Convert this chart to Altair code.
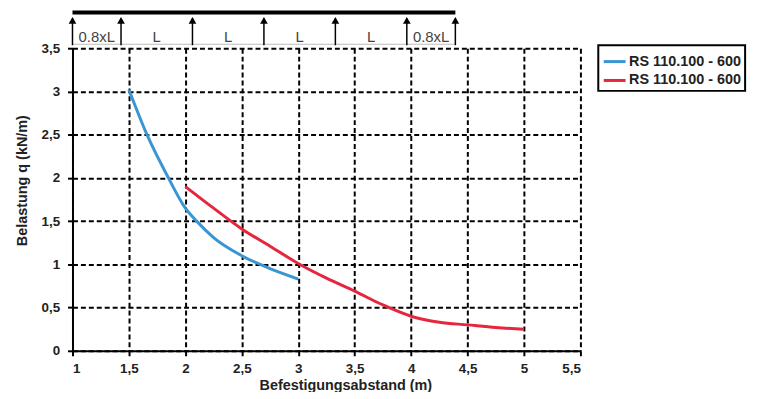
import altair as alt
import pandas as pd

# ---- data ----
blue_x = [1.5, 1.66, 1.85, 2.0, 2.1, 2.25, 2.5, 2.75, 3.0]
blue_y = [3.02, 2.50, 2.00, 1.65, 1.50, 1.31, 1.10, 0.95, 0.83]
red_x = [2.0, 2.25, 2.5, 2.75, 3.0, 3.25, 3.5, 3.75, 4.0, 4.25, 4.5, 4.75, 5.0]
red_y = [1.90, 1.65, 1.41, 1.21, 1.01, 0.84, 0.69, 0.53, 0.40, 0.33, 0.30, 0.27, 0.25]
series_names = ["RS 110.100 - 600 (a)", "RS 110.100 - 600 (b)"]
legend_label = "RS 110.100 - 600"
series_colors = ["#3a96d2", "#e4273e"]

x_ticks = [1, 1.5, 2, 2.5, 3, 3.5, 4, 4.5, 5, 5.5]
y_ticks = [0, 0.5, 1, 1.5, 2, 2.5, 3, 3.5]

# support scheme above the chart (positions in x-axis units)
support_pos = [1.0, 1.43, 2.063, 2.696, 3.329, 3.962, 4.392]
span_labels = ["0.8xL", "L", "L", "L", "L", "0.8xL"]

FONT = "Liberation Sans"

df = pd.concat([
    pd.DataFrame({"x": blue_x, "y": blue_y, "s": series_names[0], "o": range(len(blue_x))}),
    pd.DataFrame({"x": red_x, "y": red_y, "s": series_names[1], "o": range(len(red_x))}),
])

sup = pd.DataFrame({"p": support_pos})
spans = pd.DataFrame({
    "m": [(a + b) / 2 for a, b in zip(support_pos[:-1], support_pos[1:])],
    "t": span_labels,
})
beam = pd.DataFrame({"a": [support_pos[0]], "b": [support_pos[-1]]})

xscale = alt.Scale(domain=[1, 5.5], nice=False, zero=False)
yscale = alt.Scale(domain=[0, 3.5], nice=False, zero=False)

lines = alt.Chart(df).mark_line(strokeWidth=3, interpolate="monotone").encode(
    x=alt.X("x:Q", scale=xscale,
            axis=alt.Axis(values=x_ticks, title="Befestigungsabstand (m)",
                          labelExpr="replace(datum.label, '.', ',')", format=".1~f",
                          titlePadding=4, titleX=275, labelPadding=6)),
    y=alt.Y("y:Q", scale=yscale,
            axis=alt.Axis(values=y_ticks, title="Belastung q (kN/m)",
                          labelExpr="replace(datum.label, '.', ',')", format=".1~f",
                          titlePadding=12, titleY=133, labelPadding=8)),
    color=alt.Color("s:N", scale=alt.Scale(domain=series_names, range=series_colors),
                    legend=alt.Legend(title=None, orient="none", legendX=530, legendY=-3,
                                      labelExpr=f"'{legend_label}'")),
    order="o:Q",
)

beam_rule = alt.Chart(beam).mark_rule(color="black", strokeWidth=4).encode(
    x=alt.X("a:Q", scale=xscale), x2="b:Q", y=alt.value(-36)
)
base_rule = alt.Chart(beam).mark_rule(color="#bbbbbb", strokeWidth=1).encode(
    x=alt.X("a:Q", scale=xscale), x2="b:Q", y=alt.value(-4)
)
arrows = alt.Chart(sup).mark_rule(color="black", strokeWidth=1.5).encode(
    x=alt.X("p:Q", scale=xscale), y=alt.value(-30), y2=alt.value(-3)
)
heads = alt.Chart(sup).mark_point(shape="triangle-up", filled=True, color="black",
                                  size=60, opacity=1).encode(
    x=alt.X("p:Q", scale=xscale), y=alt.value(-28)
)
span_text = alt.Chart(spans).mark_text(font=FONT, fontSize=15, color="#444444",
                                       baseline="middle").encode(
    x=alt.X("m:Q", scale=xscale), y=alt.value(-11), text="t:N"
)

chart = alt.layer(base_rule, beam_rule, arrows, heads, span_text, lines).properties(
    width=512, height=305,
    autosize=alt.AutoSizeParams(type="none"),
    padding={"left": 65, "top": 39, "right": 180, "bottom": 40},
    background="white",
).configure_view(stroke=None).configure_axis(
    domainColor="black", domainWidth=2,
    tickColor="black", tickSize=5, tickWidth=2,
    grid=True, gridColor="black", gridDash=[5, 3], gridWidth=2, gridOpacity=1,
    labelFont=FONT, labelFontSize=13.5, labelFontWeight="bold", labelColor="#222222",
    titleFont=FONT, titleFontSize=14.5, titleFontWeight="bold", titleColor="#222222",
).configure_legend(
    strokeColor="black", strokeWidth=2, padding=4, symbolType="stroke",
    symbolStrokeWidth=3, symbolSize=484, labelFont=FONT, labelFontSize=14.5,
    labelFontWeight="bold", labelColor="#222222", rowPadding=0, labelOffset=2,
)

chart.save("out.html", embed_options={"renderer": "svg", "actions": False})
